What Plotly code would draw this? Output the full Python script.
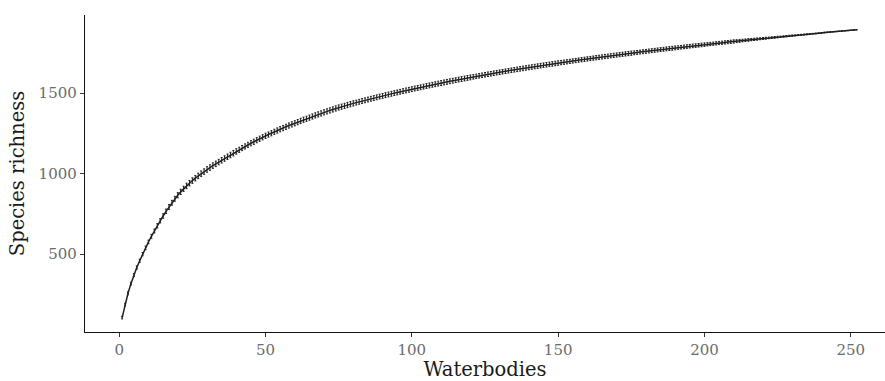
import plotly.graph_objects as go

# Species accumulation: mean richness and its standard deviation per number of waterbodies
waterbodies = list(range(1, 253))

richness = [
    105, 186, 256, 316, 369, 416, 458,
    499, 538, 575, 610, 643, 675, 706, 736, 765, 792, 818, 843,
    865, 886, 905, 923, 940, 956, 971, 985, 999, 1012, 1025, 1037, 1049, 1060, 1071,
    1082, 1093, 1104, 1115, 1126, 1137, 1147, 1158, 1168, 1178, 1188, 1197, 1207, 1216, 1225, 1234, 1242,
    1250, 1259, 1267, 1275, 1282, 1290, 1298, 1305, 1312, 1319, 1327, 1334, 1340, 1347, 1354, 1361,
    1367, 1373, 1380, 1386, 1392, 1398, 1404, 1410,
    1415.0, 1420.2, 1425.4, 1430.5, 1435.5, 1440.4, 1445.3, 1450.1, 1454.8, 1459.5, 1464.1, 1468.7,
    1473.2, 1477.7, 1482.1, 1486.5, 1490.8, 1495.1, 1499.3, 1503.5, 1507.6, 1511.7, 1515.8, 1519.8, 1523.8,
    1527.8, 1531.7, 1535.6, 1539.5, 1543.3, 1547.1, 1550.9, 1554.6, 1558.3, 1562.0, 1565.6, 1569.2,
    1572.8, 1576.3, 1579.8, 1583.3, 1586.7, 1590.1, 1593.5, 1596.9, 1600.2, 1603.5, 1606.8, 1610.1,
    1613.3, 1616.5, 1619.7,
    1622.8, 1625.9, 1629.0, 1632.1, 1635.1, 1638.1, 1641.1, 1644.1, 1647.0, 1649.9, 1652.8, 1655.7,
    1658.6, 1661.4, 1664.2, 1667.0, 1669.8, 1672.6, 1675.3, 1678.0, 1680.7, 1683.4, 1686.1, 1688.7, 1691.3,
    1693.9, 1696.5, 1699.1, 1701.7, 1704.3, 1706.8, 1709.3, 1711.8, 1714.3, 1716.8, 1719.3, 1721.7,
    1724.1, 1726.5, 1728.9, 1731.3, 1733.7, 1736.0, 1738.3, 1740.6, 1742.9, 1745.2, 1747.5, 1749.8,
    1752.0, 1754.2,
    1756.4, 1758.6, 1760.8, 1763.0, 1765.2, 1767.4, 1769.6, 1771.7, 1773.8, 1775.9, 1778.0, 1780.1,
    1782.2, 1784.3, 1786.4, 1788.5, 1790.5, 1792.5, 1794.5, 1796.5, 1798.5, 1800.5,
    1802.5, 1804.5, 1806.5, 1808.5, 1810.5, 1812.4, 1814.3, 1816.2, 1818.1, 1820.0, 1821.9, 1823.8,
    1825.7, 1827.6, 1829.5, 1831.4, 1833.2, 1835.0, 1836.8, 1838.6, 1840.4, 1842.2, 1844.0, 1845.8,
    1847.6, 1849.4,
    1851.2, 1853.0, 1854.7, 1856.4, 1858.1, 1859.8, 1861.5, 1863.2, 1864.9, 1866.6, 1868.3, 1870.0,
    1871.7, 1873.4, 1875.1, 1876.8, 1878.4, 1880.0, 1881.6, 1883.2, 1884.8, 1886.4, 1888.0, 1889.6,
    1891.2, 1892.8,
]

richness_sd = [
    8, 8, 9, 9, 9, 10, 10, 10, 11, 11,
    12, 12, 13, 13, 14, 14, 15, 15, 15, 16,
    16, 16, 17, 17, 17, 17, 17, 17, 17, 17,
    17, 17, 17, 17, 17, 17, 17, 17, 17, 17,
    16, 16, 16, 16, 16, 16, 16, 16, 16, 16,
    16, 16, 16, 16, 16, 16, 16, 16, 16, 16,
    16, 16, 16, 16, 16, 16, 16, 16, 16, 16,
    16, 16, 16, 16, 16, 16, 16, 16, 16, 16,
    15, 15, 15, 15, 15, 15, 15, 15, 15, 15,
    15, 15, 15, 15, 15, 15, 15, 15, 15, 15,
    15, 15, 15, 15, 15, 15, 15, 15, 15, 15,
    15, 15, 15, 15, 15, 15, 15, 15, 15, 15,
    14, 14, 14, 14, 14, 14, 14, 14, 14, 14,
    14, 14, 14, 14, 14, 14, 14, 14, 14, 14,
    14, 14, 14, 14, 14, 14, 14, 14, 14, 14,
    13, 13, 13, 13, 13, 13, 13, 13, 13, 13,
    13, 13, 13, 13, 13, 13, 13, 13, 13, 13,
    13, 13, 13, 13, 13, 12, 12, 12, 12, 12,
    12, 12, 12, 12, 12, 12, 12, 12, 12, 12,
    11, 11, 11, 11, 11, 11, 11, 11, 11, 11,
    10, 10, 10, 10, 10, 10, 10, 10, 10, 10,
    9, 9, 8, 8, 8, 7, 7, 7, 6, 6,
    6, 5, 5, 5, 5, 4, 4, 4, 4, 4,
    3, 3, 3, 3, 3, 3, 2, 2, 2, 2,
    2, 2, 2, 1, 1, 1, 1, 1, 1, 0,
    0, 0,
]

x_ticks = [0, 50, 100, 150, 200, 250]
y_ticks = [500, 1000, 1500]

INK = "#1f1f1f"
SERIF = "DejaVu Serif, Liberation Serif, serif"

fig = go.Figure()

fig.add_trace(go.Scatter(
    x=waterbodies,
    y=richness,
    mode="lines",
    line=dict(color=INK, width=1.5),
    error_y=dict(type="data", array=richness_sd, visible=True,
                 color=INK, thickness=1, width=1),
    showlegend=False,
    hoverinfo="skip",
))

axis_common = dict(
    showline=True, linecolor="#111111", linewidth=1.4,
    showgrid=False, zeroline=False,
    ticks="outside", ticklen=4, tickwidth=1, tickcolor="#333333",
    tickfont=dict(family=SERIF, size=15, color="#6b6b6b"),
    mirror=False,
)

fig.update_layout(
    width=885, height=381,
    margin=dict(l=85, r=0, t=15, b=49),
    paper_bgcolor="white", plot_bgcolor="white",
    xaxis=dict(
        range=[-11.7, 261.7], tickvals=x_ticks,
        title=dict(text="Waterbodies", standoff=6,
                   font=dict(family=SERIF, size=19.5, color="#1a1a1a")),
        **axis_common,
    ),
    yaxis=dict(
        range=[15.5, 1984.5], tickvals=y_ticks,
        title=dict(text="Species richness", standoff=8,
                   font=dict(family=SERIF, size=19.5, color="#1a1a1a")),
        **axis_common,
    ),
)

fig.write_html("out.html")
